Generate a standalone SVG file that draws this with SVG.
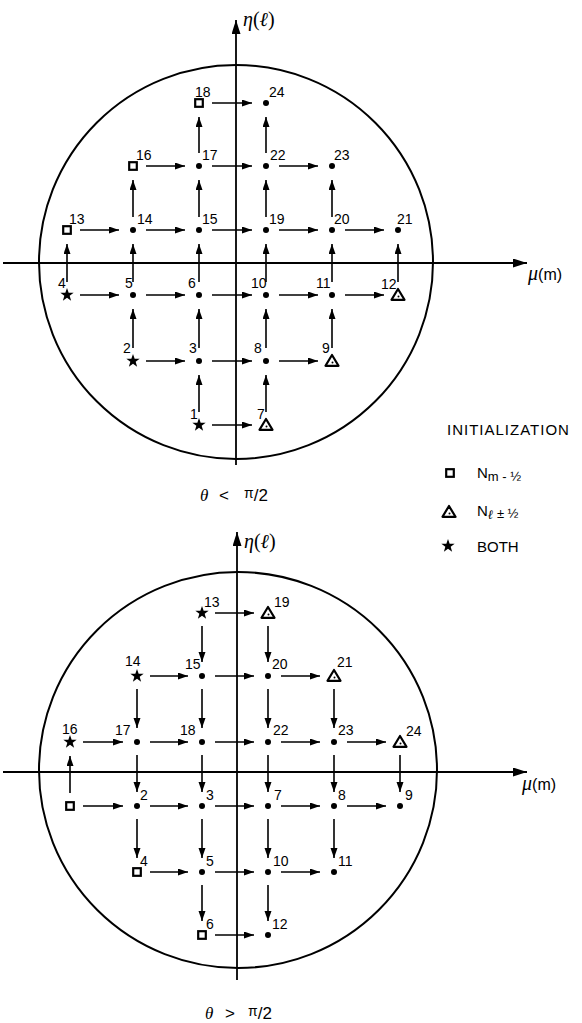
<svg xmlns="http://www.w3.org/2000/svg" xmlns:xlink="http://www.w3.org/1999/xlink" width="582" height="1023" viewBox="0 0 582 1023">
<style>
.ax{stroke:#000;stroke-width:1.8;fill:none}
.ci{stroke:#000;stroke-width:2;fill:none}
.c line{stroke:#000;stroke-width:1.6;marker-end:url(#ah)}
.lb{font-family:"Liberation Sans",Arial,sans-serif;font-size:14px;fill:#000}
.cap{font-family:"Liberation Sans",Arial,sans-serif;font-size:17px;fill:#000}
.sym{font-family:"Liberation Serif","DejaVu Serif",serif;font-style:italic;font-size:20px;fill:#000}
.lg{font-family:"Liberation Sans",Arial,sans-serif;font-size:15px;fill:#000}
</style>
<defs>
<marker id="ah" markerUnits="userSpaceOnUse" markerWidth="11" markerHeight="8" refX="10" refY="3.5" orient="auto"><path d="M0,0 L10,3.5 L0,7 Z" fill="#000"/></marker>
<marker id="axh" markerUnits="userSpaceOnUse" markerWidth="15" markerHeight="10" refX="14" refY="4.5" orient="auto"><path d="M0,0 L14,4.5 L0,9 Z" fill="#000"/></marker>
<g id="dot"><circle r="3" fill="#000"/></g>
<g id="sq"><rect x="-3.8" y="-3.8" width="7.6" height="7.6" fill="#fff" stroke="#000" stroke-width="2.2"/></g>
<g id="tri"><polygon points="0,-6 6.5,4.8 -6.5,4.8" fill="#fff" stroke="#000" stroke-width="2.2" stroke-linejoin="round"/><circle cx="0.5" cy="1.5" r="1" fill="#000"/></g>
<g id="star"><path d="M0,-7 L1.65,-2.27 L6.66,-2.16 L2.66,0.86 L4.11,5.66 L0,2.8 L-4.11,5.66 L-2.66,0.86 L-6.66,-2.16 L-1.65,-2.27 Z" fill="#000"/></g>
</defs>

<g id="top-frame">
<circle class="ci" cx="236" cy="262" r="197"/>
<line class="ax" x1="3" y1="263" x2="527" y2="263" marker-end="url(#axh)"/>
<line class="ax" x1="236" y1="465" x2="236" y2="20" marker-end="url(#axh)"/>
<text class="sym" x="243" y="26">η<tspan font-style="normal">(</tspan>ℓ<tspan font-style="normal">)</tspan></text>
<text class="sym" x="528" y="280">μ<tspan font-family="Liberation Sans, Arial, sans-serif" font-style="normal" font-size="16">(m)</tspan></text>
<text class="cap" x="200" y="501"><tspan font-family="Liberation Serif, serif" font-style="italic">θ</tspan><tspan x="219">&lt;</tspan><tspan x="244" dy="-3" font-size="14">π</tspan><tspan dy="3">/2</tspan></text>
</g>

<g id="top-connectors" class="c">
<line x1="212" y1="103" x2="252" y2="103"/>
<line x1="146" y1="166" x2="185" y2="166"/>
<line x1="212" y1="166" x2="252" y2="166"/>
<line x1="279" y1="166" x2="318" y2="166"/>
<line x1="80" y1="230" x2="119" y2="230"/>
<line x1="146" y1="230" x2="185" y2="230"/>
<line x1="212" y1="230" x2="252" y2="230"/>
<line x1="279" y1="230" x2="318" y2="230"/>
<line x1="345" y1="230" x2="384" y2="230"/>
<line x1="80" y1="295" x2="119" y2="295"/>
<line x1="146" y1="295" x2="185" y2="295"/>
<line x1="212" y1="295" x2="252" y2="295"/>
<line x1="279" y1="295" x2="318" y2="295"/>
<line x1="345" y1="295" x2="384" y2="295"/>
<line x1="146" y1="361" x2="185" y2="361"/>
<line x1="212" y1="361" x2="252" y2="361"/>
<line x1="279" y1="361" x2="318" y2="361"/>
<line x1="212" y1="425" x2="252" y2="425"/>
<line x1="199" y1="153" x2="199" y2="117"/>
<line x1="266" y1="153" x2="266" y2="117"/>
<line x1="133" y1="217" x2="133" y2="180"/>
<line x1="199" y1="217" x2="199" y2="180"/>
<line x1="266" y1="217" x2="266" y2="180"/>
<line x1="332" y1="217" x2="332" y2="180"/>
<line x1="67" y1="282" x2="67" y2="244"/>
<line x1="133" y1="282" x2="133" y2="244"/>
<line x1="199" y1="282" x2="199" y2="244"/>
<line x1="266" y1="282" x2="266" y2="244"/>
<line x1="332" y1="282" x2="332" y2="244"/>
<line x1="398" y1="282" x2="398" y2="244"/>
<line x1="133" y1="348" x2="133" y2="309"/>
<line x1="199" y1="348" x2="199" y2="309"/>
<line x1="266" y1="348" x2="266" y2="309"/>
<line x1="332" y1="348" x2="332" y2="309"/>
<line x1="199" y1="412" x2="199" y2="375"/>
<line x1="266" y1="412" x2="266" y2="375"/>
</g>

<g id="t-n18"><use href="#sq" x="199" y="103"/><text class="lb" x="195" y="97">18</text></g>
<g id="t-n24"><use href="#dot" x="266" y="103"/><text class="lb" x="269" y="97">24</text></g>
<g id="t-n16"><use href="#sq" x="133" y="166"/><text class="lb" x="136" y="160">16</text></g>
<g id="t-n17"><use href="#dot" x="199" y="166"/><text class="lb" x="202" y="160">17</text></g>
<g id="t-n22"><use href="#dot" x="266" y="166"/><text class="lb" x="270" y="160">22</text></g>
<g id="t-n23"><use href="#dot" x="332" y="166"/><text class="lb" x="334" y="160">23</text></g>
<g id="t-n13"><use href="#sq" x="67" y="230"/><text class="lb" x="69" y="224">13</text></g>
<g id="t-n14"><use href="#dot" x="133" y="230"/><text class="lb" x="137" y="224">14</text></g>
<g id="t-n15"><use href="#dot" x="199" y="230"/><text class="lb" x="202" y="224">15</text></g>
<g id="t-n19"><use href="#dot" x="266" y="230"/><text class="lb" x="269" y="224">19</text></g>
<g id="t-n20"><use href="#dot" x="332" y="230"/><text class="lb" x="334" y="224">20</text></g>
<g id="t-n21"><use href="#dot" x="398" y="230"/><text class="lb" x="397" y="224">21</text></g>
<g id="t-n4"><use href="#star" x="67" y="295"/><text class="lb" x="58" y="288">4</text></g>
<g id="t-n5"><use href="#dot" x="133" y="295"/><text class="lb" x="125" y="288">5</text></g>
<g id="t-n6"><use href="#dot" x="199" y="295"/><text class="lb" x="188" y="288">6</text></g>
<g id="t-n10"><use href="#dot" x="266" y="295"/><text class="lb" x="251" y="288">10</text></g>
<g id="t-n11"><use href="#dot" x="332" y="295"/><text class="lb" x="316" y="288">11</text></g>
<g id="t-n12"><use href="#tri" x="398" y="295"/><text class="lb" x="381" y="289">12</text></g>
<g id="t-n2"><use href="#star" x="133" y="361"/><text class="lb" x="123" y="353">2</text></g>
<g id="t-n3"><use href="#dot" x="199" y="361"/><text class="lb" x="189" y="353">3</text></g>
<g id="t-n8"><use href="#dot" x="266" y="361"/><text class="lb" x="254" y="353">8</text></g>
<g id="t-n9"><use href="#tri" x="332" y="361"/><text class="lb" x="322" y="353">9</text></g>
<g id="t-n1"><use href="#star" x="199" y="425"/><text class="lb" x="190" y="419">1</text></g>
<g id="t-n7"><use href="#tri" x="266" y="425"/><text class="lb" x="257" y="419">7</text></g>

<g id="legend">
<text class="lg" x="447" y="435" letter-spacing="1">INITIALIZATION</text>
<use href="#sq" x="450" y="473"/>
<text class="lg" x="477" y="478" font-size="16">N<tspan dy="3" font-size="13">m - ½</tspan></text>
<use href="#tri" x="449" y="512"/>
<text class="lg" x="477" y="516" font-size="16">N<tspan dy="3" font-size="13" font-family="Liberation Serif, serif" font-style="italic">ℓ</tspan><tspan dy="-1" font-size="13"> ± ½</tspan></text>
<use href="#star" x="448" y="546"/>
<text class="lg" x="477" y="552">BOTH</text>
</g>

<g id="bottom-frame">
<ellipse class="ci" cx="238" cy="770" rx="199" ry="198"/>
<line class="ax" x1="3" y1="772" x2="527" y2="772" marker-end="url(#axh)"/>
<line class="ax" x1="237" y1="980" x2="237" y2="532" marker-end="url(#axh)"/>
<text class="sym" x="244" y="548">η<tspan font-style="normal">(</tspan>ℓ<tspan font-style="normal">)</tspan></text>
<text class="sym" x="522" y="790">μ<tspan font-family="Liberation Sans, Arial, sans-serif" font-style="normal" font-size="16">(m)</tspan></text>
<text class="cap" x="205" y="1019"><tspan font-family="Liberation Serif, serif" font-style="italic">θ</tspan><tspan x="225">&gt;</tspan><tspan x="248" dy="-3" font-size="14">π</tspan><tspan dy="3">/2</tspan></text>
</g>

<g id="bottom-connectors" class="c">
<line x1="215" y1="613" x2="254" y2="613"/>
<line x1="150" y1="676" x2="188" y2="676"/>
<line x1="215" y1="676" x2="254" y2="676"/>
<line x1="281" y1="676" x2="320" y2="676"/>
<line x1="83" y1="742" x2="123" y2="742"/>
<line x1="150" y1="742" x2="188" y2="742"/>
<line x1="215" y1="742" x2="254" y2="742"/>
<line x1="281" y1="742" x2="320" y2="742"/>
<line x1="347" y1="742" x2="386" y2="742"/>
<line x1="83" y1="806" x2="123" y2="806"/>
<line x1="150" y1="806" x2="188" y2="806"/>
<line x1="215" y1="806" x2="254" y2="806"/>
<line x1="281" y1="806" x2="320" y2="806"/>
<line x1="347" y1="806" x2="386" y2="806"/>
<line x1="150" y1="872" x2="188" y2="872"/>
<line x1="215" y1="872" x2="254" y2="872"/>
<line x1="281" y1="872" x2="320" y2="872"/>
<line x1="215" y1="935" x2="254" y2="935"/>
<line x1="202" y1="626" x2="202" y2="662"/>
<line x1="268" y1="626" x2="268" y2="662"/>
<line x1="137" y1="689" x2="137" y2="728"/>
<line x1="202" y1="689" x2="202" y2="728"/>
<line x1="268" y1="689" x2="268" y2="728"/>
<line x1="334" y1="689" x2="334" y2="728"/>
<line x1="137" y1="755" x2="137" y2="792"/>
<line x1="202" y1="755" x2="202" y2="792"/>
<line x1="268" y1="755" x2="268" y2="792"/>
<line x1="334" y1="755" x2="334" y2="792"/>
<line x1="400" y1="755" x2="400" y2="792"/>
<line x1="137" y1="819" x2="137" y2="858"/>
<line x1="202" y1="819" x2="202" y2="858"/>
<line x1="268" y1="819" x2="268" y2="858"/>
<line x1="334" y1="819" x2="334" y2="858"/>
<line x1="202" y1="885" x2="202" y2="921"/>
<line x1="268" y1="885" x2="268" y2="921"/>
<line x1="70" y1="793" x2="70" y2="756"/>
</g>

<g id="b-n13"><use href="#star" x="202" y="613"/><text class="lb" x="204" y="607">13</text></g>
<g id="b-n19"><use href="#tri" x="268" y="613"/><text class="lb" x="274" y="607">19</text></g>
<g id="b-n14"><use href="#star" x="137" y="676"/><text class="lb" x="125" y="666">14</text></g>
<g id="b-n15"><use href="#dot" x="202" y="676"/><text class="lb" x="185" y="669">15</text></g>
<g id="b-n20"><use href="#dot" x="268" y="676"/><text class="lb" x="272" y="669">20</text></g>
<g id="b-n21"><use href="#tri" x="334" y="676"/><text class="lb" x="337" y="667">21</text></g>
<g id="b-n16"><use href="#star" x="70" y="742"/><text class="lb" x="62" y="734">16</text></g>
<g id="b-n17"><use href="#dot" x="137" y="742"/><text class="lb" x="115" y="735">17</text></g>
<g id="b-n18"><use href="#dot" x="202" y="742"/><text class="lb" x="180" y="735">18</text></g>
<g id="b-n22"><use href="#dot" x="268" y="742"/><text class="lb" x="273" y="735">22</text></g>
<g id="b-n23"><use href="#dot" x="334" y="742"/><text class="lb" x="338" y="735">23</text></g>
<g id="b-n24"><use href="#tri" x="400" y="742"/><text class="lb" x="406" y="736">24</text></g>
<g id="b-nsq"><use href="#sq" x="70" y="806"/></g>
<g id="b-n2"><use href="#dot" x="137" y="806"/><text class="lb" x="140" y="800">2</text></g>
<g id="b-n3"><use href="#dot" x="202" y="806"/><text class="lb" x="206" y="800">3</text></g>
<g id="b-n7"><use href="#dot" x="268" y="806"/><text class="lb" x="274" y="800">7</text></g>
<g id="b-n8"><use href="#dot" x="334" y="806"/><text class="lb" x="338" y="800">8</text></g>
<g id="b-n9"><use href="#dot" x="400" y="806"/><text class="lb" x="405" y="800">9</text></g>
<g id="b-n4"><use href="#sq" x="137" y="872"/><text class="lb" x="140" y="866">4</text></g>
<g id="b-n5"><use href="#dot" x="202" y="872"/><text class="lb" x="206" y="866">5</text></g>
<g id="b-n10"><use href="#dot" x="268" y="872"/><text class="lb" x="273" y="866">10</text></g>
<g id="b-n11"><use href="#dot" x="334" y="872"/><text class="lb" x="338" y="866">11</text></g>
<g id="b-n6"><use href="#sq" x="202" y="935"/><text class="lb" x="206" y="929">6</text></g>
<g id="b-n12"><use href="#dot" x="268" y="935"/><text class="lb" x="272" y="929">12</text></g>
</svg>
